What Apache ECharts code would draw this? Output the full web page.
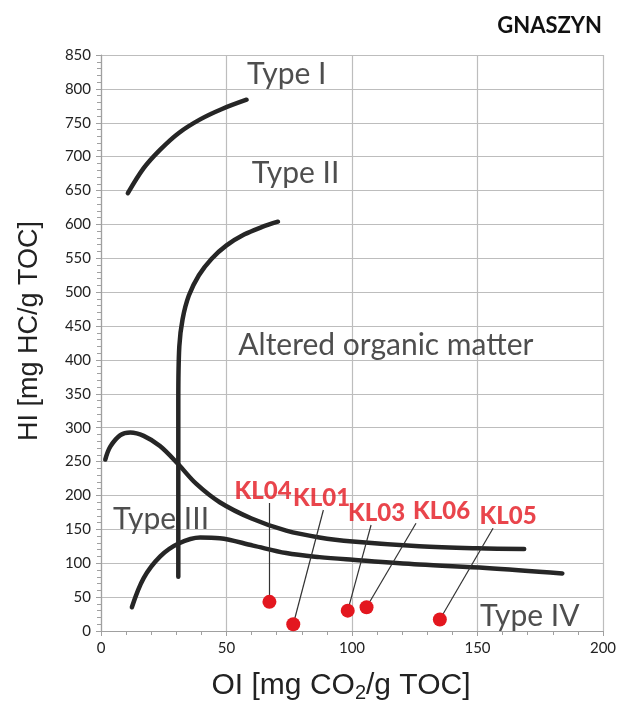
<!DOCTYPE html>
<html><head><meta charset="utf-8">
<script src="https://cdn.jsdelivr.net/npm/echarts@6/dist/echarts.min.js"></script>
<style>html,body{margin:0;padding:0;background:#fff}#c{width:621px;height:702px}</style>
</head><body><div id="c"></div>
<script>
// ---- data ----
const title = 'GNASZYN';
const samples = ['KL04', 'KL01', 'KL03', 'KL06', 'KL05'];
const sampleOI = [67.1, 76.6, 98.3, 105.8, 135.0];
const sampleHI = [43, 10, 30, 35, 17];
const labelOI = [64.6, 87.9, 109.8, 135.7, 162.2];
const labelHI = [205.6, 196, 173.7, 176, 168.7];
const leaderOI = [67.1, 88.6, 107.6, 125.5, 156.2];
const leaderHI = [189, 178.6, 156.4, 159, 151.6];

const typeIOI = [10.7, 17, 23.5, 31, 39.5, 48, 58];
const typeIHI = [646, 683, 710, 735, 755, 770, 784];
const typeIIOI = [30.8, 30.8, 30.8, 31.2, 32.5, 35, 39, 44, 50, 57, 64, 70.5];
const typeIIHI = [80, 250, 340, 420, 460, 495, 525, 549, 569, 585, 596, 604];
const upperOI = [1.7, 3.7, 7.7, 11.7, 17, 23.5, 30.8, 38, 47.3, 60, 73.8, 87, 100.3, 126.8, 150, 168.6];
const upperHI = [253, 272, 289, 293, 288, 273, 246, 217, 190, 166, 148, 138, 132, 125, 122, 121];
const lowerOI = [12.3, 17, 23.6, 30.9, 39.5, 47.3, 60.6, 73.8, 87, 100.3, 126.8, 153.4, 183.8];
const lowerHI = [35, 78, 110, 129, 138, 137, 126, 115, 109, 105, 98, 93, 85];

const zoneNames = ['Type I', 'Type II', 'Altered organic matter', 'Type III', 'Type IV'];
const zoneOI = [74, 77.5, 113.5, 23.9, 170.8];
const zoneHI = [821, 675, 421.6, 165.3, 22];

const xMin = 0, xMax = 200, xStep = 50;
const yMin = 0, yMax = 850, yStep = 50;

// ---- chart ----
const pairs = (a, b) => a.map((v, i) => [v, b[i]]);
const curveStyle = { color: '#262626', width: 4.5, cap: 'round' };
const curve = (name, xs, ys) => ({
  name, type: 'line', data: pairs(xs, ys), smooth: 0.35, showSymbol: false,
  symbol: 'none', lineStyle: curveStyle, silent: true, z: 3
});
const red = '#e3171f';
const chart = echarts.init(document.getElementById('c'), null, { renderer: 'canvas' });
chart.setOption({
  animation: false,
  backgroundColor: '#fff',
  title: {
    text: title, right: 14, top: 10,
    textStyle: { fontFamily: 'Lato', fontWeight: 'bold', fontSize: 22, color: '#111' }
  },
  grid: { left: 101, right: 18, top: 55, bottom: 71, outerBoundsMode: 'none', containLabel: false },
  xAxis: {
    type: 'value', min: xMin, max: xMax, interval: xStep,
    name: '{a|OI [mg CO}{s|2}{a|/g TOC]}', nameLocation: 'middle', nameGap: 38,
    nameTextStyle: {
      padding: [0, 22, 0, 0],
      rich: {
        a: { fontFamily: 'Liberation Sans', fontSize: 30, color: '#222', verticalAlign: 'bottom', lineHeight: 32 },
        s: { fontFamily: 'Liberation Sans', fontSize: 20, color: '#222', verticalAlign: 'bottom', lineHeight: 32, padding: [0, 0, -2, 0] }
      }
    },
    axisLine: { lineStyle: { color: '#a0a0a0', width: 1.2 } },
    axisTick: { show: true, length: 5, lineStyle: { color: '#a0a0a0' } },
    minorTick: { show: true, splitNumber: 5, length: 4, lineStyle: { color: '#a0a0a0' } },
    axisLabel: { fontFamily: 'Lato', fontSize: 15, color: '#222', margin: 10 },
    splitLine: { show: true, lineStyle: { color: '#bdbdbd', width: 1.2 } }
  },
  yAxis: {
    type: 'value', min: yMin, max: yMax, interval: yStep,
    name: 'HI [mg HC/g TOC]', nameLocation: 'middle', nameGap: 58,
    nameTextStyle: { fontFamily: 'Liberation Sans', fontSize: 27, color: '#222', padding: [0, 0, 0, 24] },
    axisLine: { show: true, lineStyle: { color: '#a0a0a0', width: 1.2 } },
    axisTick: { show: true, length: 5, lineStyle: { color: '#a0a0a0' } },
    minorTick: { show: true, splitNumber: 5, length: 4, lineStyle: { color: '#a0a0a0' } },
    axisLabel: { fontFamily: 'Lato', fontSize: 15, color: '#222', margin: 10 },
    splitLine: { show: true, lineStyle: { color: '#bdbdbd', width: 1.2 } }
  },
  series: [
    curve('Type I', typeIOI, typeIHI),
    curve('Type II', typeIIOI, typeIIHI),
    curve('Upper', upperOI, upperHI),
    curve('Lower', lowerOI, lowerHI),
    {
      name: 'zones', type: 'scatter', symbolSize: 0, silent: true, z: 2,
      data: zoneNames.map((n, i) => ({ value: [zoneOI[i], zoneHI[i]], name: n })),
      label: {
        show: true, position: 'inside', formatter: p => p.name,
        fontFamily: 'Lato', fontSize: 30, color: '#222'
      }
    },
    {
      name: 'leaders', type: 'lines', coordinateSystem: 'cartesian2d', silent: true, z: 4,
      data: samples.map((n, i) => ({ coords: [[sampleOI[i], sampleHI[i]], [leaderOI[i], leaderHI[i]]] })),
      lineStyle: { color: '#333', width: 1.2, opacity: 1 }
    },
    {
      name: 'samples', type: 'scatter', symbol: 'circle', symbolSize: 14, z: 5,
      itemStyle: { color: red, opacity: 1 },
      data: pairs(sampleOI, sampleHI)
    },
    {
      name: 'sampleLabels', type: 'scatter', symbolSize: 0, silent: true, z: 6,
      data: samples.map((n, i) => ({ value: [labelOI[i], labelHI[i]], name: n })),
      label: {
        show: true, position: 'inside', formatter: p => p.name,
        fontFamily: 'Lato', fontWeight: 900, fontSize: 24, color: red
      }
    }
  ]
});
</script></body></html>
